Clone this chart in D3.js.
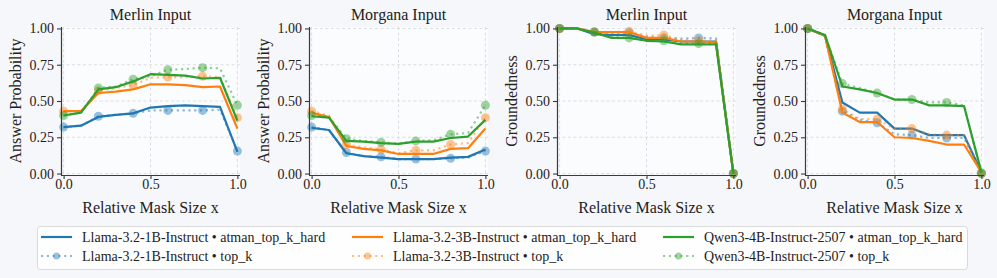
<!DOCTYPE html>
<html>
<head>
<meta charset="utf-8">
<script src="https://cdn.jsdelivr.net/npm/d3@7"></script>
<style>
  body { margin: 0; background: #f6f7fb; }
  svg { display: block; font-family: "Liberation Serif", "Times New Roman", serif; }
</style>
</head>
<body>
<div id="chart"></div>
<script>
// x positions (relative mask size)
var maskSizes = [0, 0.1, 0.2, 0.3, 0.4, 0.5, 0.6, 0.7, 0.8, 0.9, 1.0];
var xTicks = [0, 0.5, 1.0];
var yTicks = [0, 0.25, 0.5, 0.75, 1.0];

var panelTitles = ["Merlin Input", "Morgana Input", "Merlin Input", "Morgana Input"];
var panelYLabels = ["Answer Probability", "Answer Probability", "Groundedness", "Groundedness"];
var modelNames = ["Llama-3.2-1B-Instruct", "Llama-3.2-3B-Instruct", "Qwen3-4B-Instruct-2507"];
var methodNames = ["atman_top_k_hard", "top_k"];
var modelColors = ["#1f77b4", "#ff7f0e", "#2ca02c"];

// panel 1: Merlin input, answer probability
var merlinProbLlama1bHard = [0.32, 0.33, 0.39, 0.405, 0.415, 0.455, 0.465, 0.47, 0.465, 0.46, 0.15];
var merlinProbLlama1bTopk = [0.32, 0.33, 0.395, 0.405, 0.415, 0.435, 0.435, 0.435, 0.435, 0.44, 0.155];
var merlinProbLlama3bHard = [0.43, 0.43, 0.555, 0.565, 0.58, 0.615, 0.615, 0.61, 0.595, 0.60, 0.31];
var merlinProbLlama3bTopk = [0.43, 0.43, 0.57, 0.59, 0.61, 0.66, 0.665, 0.665, 0.67, 0.665, 0.385];
var merlinProbQwenHard = [0.40, 0.42, 0.58, 0.595, 0.635, 0.685, 0.68, 0.675, 0.655, 0.66, 0.365];
var merlinProbQwenTopk = [0.40, 0.42, 0.59, 0.60, 0.65, 0.67, 0.715, 0.72, 0.73, 0.725, 0.47];

// panel 2: Morgana input, answer probability
var morganaProbLlama1bHard = [0.315, 0.30, 0.14, 0.12, 0.11, 0.10, 0.10, 0.10, 0.11, 0.115, 0.165];
var morganaProbLlama1bTopk = [0.32, 0.30, 0.145, 0.12, 0.115, 0.10, 0.10, 0.10, 0.105, 0.11, 0.155];
var morganaProbLlama3bHard = [0.42, 0.39, 0.19, 0.17, 0.16, 0.135, 0.135, 0.135, 0.17, 0.175, 0.31];
var morganaProbLlama3bTopk = [0.43, 0.40, 0.20, 0.18, 0.165, 0.14, 0.16, 0.16, 0.20, 0.21, 0.385];
var morganaProbQwenHard = [0.395, 0.385, 0.225, 0.22, 0.21, 0.205, 0.22, 0.22, 0.245, 0.255, 0.37];
var morganaProbQwenTopk = [0.40, 0.39, 0.24, 0.225, 0.215, 0.205, 0.225, 0.23, 0.27, 0.28, 0.47];

// panel 3: Merlin input, groundedness
var merlinGrdLlama1bHard = [1.0, 1.0, 0.96, 0.955, 0.955, 0.925, 0.925, 0.91, 0.91, 0.91, 0.0];
var merlinGrdLlama1bTopk = [1.0, 1.0, 0.975, 0.97, 0.97, 0.94, 0.935, 0.93, 0.935, 0.93, 0.0];
var merlinGrdLlama3bHard = [1.0, 1.0, 0.975, 0.975, 0.975, 0.935, 0.935, 0.91, 0.91, 0.905, 0.0];
var merlinGrdLlama3bTopk = [1.0, 1.0, 0.975, 0.975, 0.98, 0.95, 0.955, 0.92, 0.915, 0.915, 0.0];
var merlinGrdQwenHard = [1.0, 1.0, 0.97, 0.935, 0.935, 0.915, 0.91, 0.89, 0.89, 0.89, 0.0];
var merlinGrdQwenTopk = [1.0, 1.0, 0.975, 0.94, 0.935, 0.915, 0.915, 0.895, 0.895, 0.895, 0.0];

// panel 4: Morgana input, groundedness
var morganaGrdLlama1bHard = [1.0, 0.95, 0.49, 0.42, 0.42, 0.31, 0.31, 0.265, 0.265, 0.265, 0.01];
var morganaGrdLlama1bTopk = [1.0, 0.95, 0.43, 0.37, 0.35, 0.27, 0.265, 0.245, 0.245, 0.245, 0.0];
var morganaGrdLlama3bHard = [1.0, 0.95, 0.42, 0.355, 0.355, 0.25, 0.245, 0.225, 0.20, 0.20, 0.01];
var morganaGrdLlama3bTopk = [1.0, 0.95, 0.445, 0.375, 0.375, 0.31, 0.31, 0.27, 0.265, 0.265, 0.0];
var morganaGrdQwenHard = [1.0, 0.955, 0.60, 0.58, 0.555, 0.51, 0.51, 0.47, 0.47, 0.465, 0.01];
var morganaGrdQwenTopk = [1.0, 0.955, 0.62, 0.59, 0.555, 0.51, 0.51, 0.49, 0.49, 0.47, 0.005];

var panelSeries = [
  [[merlinProbLlama1bHard, merlinProbLlama1bTopk], [merlinProbLlama3bHard, merlinProbLlama3bTopk], [merlinProbQwenHard, merlinProbQwenTopk]],
  [[morganaProbLlama1bHard, morganaProbLlama1bTopk], [morganaProbLlama3bHard, morganaProbLlama3bTopk], [morganaProbQwenHard, morganaProbQwenTopk]],
  [[merlinGrdLlama1bHard, merlinGrdLlama1bTopk], [merlinGrdLlama3bHard, merlinGrdLlama3bTopk], [merlinGrdQwenHard, merlinGrdQwenTopk]],
  [[morganaGrdLlama1bHard, morganaGrdLlama1bTopk], [morganaGrdLlama3bHard, morganaGrdLlama3bTopk], [morganaGrdQwenHard, morganaGrdQwenTopk]]
];

var W = 997, H = 278;
var panelLeft = [61, 309, 557, 805],
  panelWidth = 179,
  plotTop = 27,
  plotBottom = 175;

var svg = d3.select("#chart").append("svg")
  .attr("width", W)
  .attr("height", H);

svg.append("rect").attr("width", W).attr("height", H).attr("fill", "#f6f7fb");

var yScale = d3.scaleLinear().domain([-0.01, 1.01]).range([plotBottom, plotTop]);

var line = function(xs) {
  return d3.line()
    .x(function(d, i) { return xs(maskSizes[i]); })
    .y(function(d) { return yScale(d); });
};

panelSeries.forEach(function(series, p) {
  var left = panelLeft[p];
  var xScale = d3.scaleLinear().domain([-0.015, 1.015]).range([left, left + panelWidth]);
  var g = svg.append("g");

  // plot background
  g.append("rect")
    .attr("x", left).attr("y", plotTop)
    .attr("width", panelWidth).attr("height", plotBottom - plotTop)
    .attr("fill", "#fbfcfe");

  // grid
  g.append("g").selectAll("line.gy")
    .data(yTicks).enter().append("line")
    .attr("x1", left).attr("x2", left + panelWidth)
    .attr("y1", function(d) { return yScale(d); })
    .attr("y2", function(d) { return yScale(d); })
    .attr("stroke", "#d4d6dc").attr("stroke-width", 0.8)
    .attr("stroke-dasharray", "3,2.5");
  g.append("g").selectAll("line.gx")
    .data(xTicks).enter().append("line")
    .attr("y1", plotTop).attr("y2", plotBottom)
    .attr("x1", function(d) { return xScale(d); })
    .attr("x2", function(d) { return xScale(d); })
    .attr("stroke", "#d4d6dc").attr("stroke-width", 0.8)
    .attr("stroke-dasharray", "3,2.5");

  // series
  series.forEach(function(pair, m) {
    var col = modelColors[m];
    g.append("path")
      .datum(pair[0])
      .attr("fill", "none")
      .attr("stroke", col)
      .attr("stroke-width", 2.2)
      .attr("stroke-linejoin", "round")
      .attr("d", line(xScale));
    g.append("path")
      .datum(pair[1])
      .attr("fill", "none")
      .attr("stroke", col)
      .attr("stroke-opacity", 0.5)
      .attr("stroke-width", 2.2)
      .attr("stroke-dasharray", "2.2,3.6")
      .attr("d", line(xScale));
    g.append("g").selectAll("circle")
      .data(pair[1].filter(function(d, i) { return i % 2 === 0; }))
      .enter().append("circle")
      .attr("cx", function(d, i) { return xScale(maskSizes[i * 2]); })
      .attr("cy", function(d) { return yScale(d); })
      .attr("r", 4.5)
      .attr("fill", col)
      .attr("fill-opacity", 0.45);
  });

  // axes
  var xAxis = d3.axisBottom(xScale).tickValues(xTicks).tickFormat(d3.format(".1f")).tickSize(4).tickPadding(0.5);
  var yAxis = d3.axisLeft(yScale).tickValues(yTicks).tickFormat(d3.format(".2f")).tickSize(4).tickPadding(3);
  var xa = g.append("g").attr("transform", "translate(0," + plotBottom + ")").call(xAxis);
  var ya = g.append("g").attr("transform", "translate(" + left + ",0)").call(yAxis);
  [xa, ya].forEach(function(a) {
    a.select(".domain").attr("stroke", "#3a3a3a").attr("stroke-width", 1.2);
    a.selectAll(".tick line").attr("stroke", "#3a3a3a").attr("stroke-width", 1.1);
    a.selectAll(".tick text").attr("fill", "#222").style("font-size", "14px")
      .style("font-family", "'Liberation Serif', 'Times New Roman', serif");
  });
  xa.select(".domain").attr("d", "M" + left + ",0.5H" + (left + panelWidth));
  ya.select(".domain").attr("d", "M0.5," + plotTop + "V" + plotBottom);

  // title and labels
  g.append("text")
    .attr("x", left + panelWidth / 2).attr("y", 20)
    .attr("text-anchor", "middle")
    .attr("fill", "#222")
    .style("font-size", "16px")
    .text(panelTitles[p]);
  g.append("text")
    .attr("x", left + panelWidth / 2).attr("y", 213)
    .attr("text-anchor", "middle")
    .attr("fill", "#222")
    .style("font-size", "16px")
    .text("Relative Mask Size x");
  g.append("text")
    .attr("transform", "translate(" + (left - 40) + "," + ((plotTop + plotBottom) / 2) + ") rotate(-90)")
    .attr("text-anchor", "middle")
    .attr("fill", "#222")
    .style("font-size", "16px")
    .text(panelYLabels[p]);
});

// legend
var legend = svg.append("g");
legend.append("rect")
  .attr("x", 37.5).attr("y", 226.5)
  .attr("width", 930).attr("height", 43)
  .attr("rx", 3)
  .attr("fill", "#fefefe")
  .attr("stroke", "#d9d9d9");

var legendCols = [41, 352, 663];
var legendRows = [237, 256];
modelNames.forEach(function(name, m) {
  methodNames.forEach(function(method, k) {
    var lx = legendCols[m], ly = legendRows[k];
    var item = legend.append("g");
    item.append("line")
      .attr("x1", lx).attr("x2", lx + 31)
      .attr("y1", ly).attr("y2", ly)
      .attr("stroke", modelColors[m])
      .attr("stroke-width", 2.2)
      .attr("stroke-opacity", k === 0 ? 1 : 0.5)
      .attr("stroke-dasharray", k === 0 ? null : "2.2,3.6");
    if (k === 1) {
      item.append("circle")
        .attr("cx", lx + 15.5).attr("cy", ly).attr("r", 3.5)
        .attr("fill", modelColors[m]).attr("fill-opacity", 0.45);
    }
    item.append("text")
      .attr("x", lx + 41).attr("y", ly + 5)
      .attr("fill", "#222")
      .style("font-size", "14px")
      .text(name + " \u2022 " + method);
  });
});
</script>
</body>
</html>
